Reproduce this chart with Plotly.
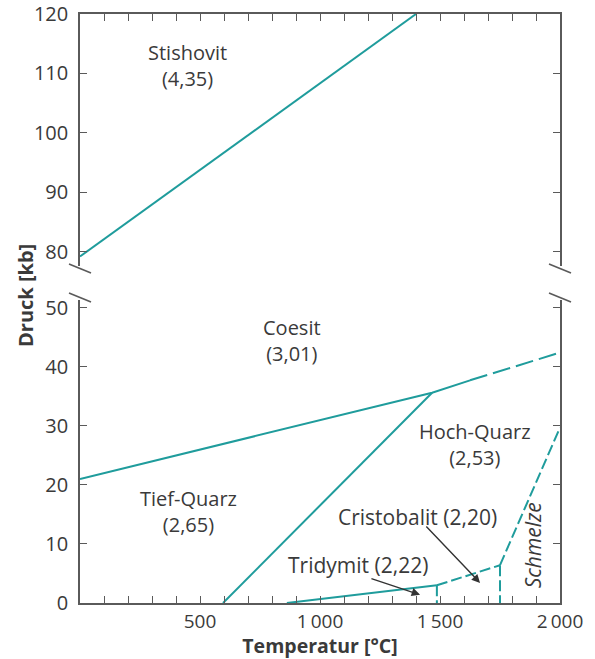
import plotly.graph_objects as go

# ---------------- data ----------------
stishovit_T = [0, 1400]
stishovit_P = [79.2, 120]

coesit_T = [0, 1467, 1625]
coesit_P = [21.0, 35.6, 37.7]
coesit_dash_T = [1625, 2000]
coesit_dash_P = [37.7, 42.4]

quarz_T = [596, 1467]
quarz_P = [0, 35.6]

tridymit_T = [862, 1487]
tridymit_P = [0, 3.0]
tridymit_v_T = [1487, 1487]
tridymit_v_P = [3.0, 0]

cristobalit_T = [1487, 1750]
cristobalit_P = [3.0, 6.4]
cristobalit_v_T = [1750, 1750]
cristobalit_v_P = [6.4, 0]

schmelze_T = [1750, 2000]
schmelze_P = [6.4, 29.7]

x_tickvals = [500, 1000, 1500, 2000]
x_ticktext = ["500", "1\u2009000", "1\u2009500", "2\u2009000"]
y_low_ticks = [0, 10, 20, 30, 40, 50]
y_high_ticks = [80, 90, 100, 110, 120]

# ---------------- style ----------------
TEAL = "#1f9c9c"
AXIS = "#5a5a5a"
TXT = "#3a3a3a"
FONT = "Open Sans"

W, H = 595, 659
L, R, T, B = 80, 35, 14, 56
PW = W - L - R
PH = H - T - B


def px(xp):
    return (xp - L) / PW


def py(yp):
    return (H - B - yp) / PH


fig = go.Figure()


def add_line(xs, ys, yaxis="y", dash="solid", xaxis="x"):
    fig.add_trace(go.Scatter(
        x=xs, y=ys, mode="lines", xaxis=xaxis, yaxis=yaxis,
        line=dict(color=TEAL, width=2, dash=dash),
        showlegend=False, hoverinfo="skip"))


add_line(stishovit_T, stishovit_P, yaxis="y2", xaxis="x2")
add_line(coesit_T, coesit_P)
add_line(coesit_dash_T, coesit_dash_P, dash="18px,6px")
add_line(quarz_T, quarz_P)
add_line(tridymit_T, tridymit_P)
add_line(tridymit_v_T, tridymit_v_P, dash="11px,4px")
add_line(cristobalit_T, cristobalit_P, dash="11px,4px")
add_line(cristobalit_v_T, cristobalit_v_P, dash="11px,4px")
add_line(schmelze_T, schmelze_P, dash="11px,4px")

bottom_dom = [0, py(300)]
top_dom = [py(266), 1]

tickfont = dict(family=FONT, size=20, color=TXT)
xtickfont = dict(family=FONT, size=19, color=TXT)

fig.update_layout(
    width=W, height=H,
    margin=dict(l=L, r=R, t=T, b=B, autoexpand=False),
    plot_bgcolor="white", paper_bgcolor="white",
    font=dict(family=FONT, color=TXT),
    xaxis=dict(
        domain=[0, 1], anchor="y", range=[0, 2000], automargin=False,
        tickvals=x_tickvals, ticktext=x_ticktext,
        ticks="inside", ticklen=7, tickwidth=1.3, tickcolor=AXIS,
        minor=dict(dtick=100, tick0=0, ticks="inside", ticklen=7,
                   tickwidth=1.3, tickcolor=AXIS, showgrid=False),
        showline=True, linecolor=AXIS, linewidth=1.6, mirror=False,
        showgrid=False, zeroline=False, tickfont=xtickfont,
        ticklabelstandoff=0,
        title=dict(text="<b>Temperatur [°C]</b>", standoff=6,
                   font=dict(family=FONT, size=19.5, color=TXT)),
    ),
    xaxis2=dict(
        domain=[0, 1], anchor="y2", range=[0, 2000], side="top",
        matches="x", showticklabels=False, automargin=False,
        tickvals=x_tickvals,
        ticks="inside", ticklen=7, tickwidth=1.3, tickcolor=AXIS,
        minor=dict(dtick=100, tick0=0, ticks="inside", ticklen=7,
                   tickwidth=1.3, tickcolor=AXIS, showgrid=False),
        showline=True, linecolor=AXIS, linewidth=1.6, mirror=False,
        showgrid=False, zeroline=False,
    ),
    yaxis=dict(
        domain=bottom_dom, anchor="x", range=[0, 51.3], automargin=False,
        tickvals=y_low_ticks,
        ticks="inside", ticklen=7, tickwidth=1.3, tickcolor=AXIS,
        showline=True, linecolor=AXIS, linewidth=1.6, mirror="ticks",
        showgrid=False, zeroline=False, tickfont=tickfont,
        ticklabelstandoff=6,
    ),
    yaxis2=dict(
        domain=top_dom, anchor="x2", range=[77.6, 120], automargin=False,
        tickvals=y_high_ticks,
        ticks="inside", ticklen=7, tickwidth=1.3, tickcolor=AXIS,
        showline=True, linecolor=AXIS, linewidth=1.6, mirror="ticks",
        showgrid=False, zeroline=False, tickfont=tickfont,
        ticklabelstandoff=6,
    ),
)

# axis break marks
for cx in (80, 560):
    for y0, y1 in ((264, 273), (293, 302)):
        fig.add_shape(type="line", xref="paper", yref="paper",
                      x0=px(cx - 11), x1=px(cx + 11), y0=py(y0), y1=py(y1),
                      line=dict(color=AXIS, width=1.6))

lab = dict(family=FONT, size=20, color=TXT)


def label(text, x, y, xref="x", yref="y", **kw):
    fig.add_annotation(text=text, x=x, y=y, xref=xref, yref=yref,
                       showarrow=False, font=kw.pop("font", lab),
                       xanchor="center", yanchor="middle", **kw)


label("Stishovit<br>(4,35)", 446, 111.4, xref="x2", yref="y2")
label("Coesit<br>(3,01)", 883, 44.4)
label("Tief-Quarz<br>(2,65)", 454, 15.5)
label("Hoch-Quarz<br>(2,53)", 1644, 26.8)
label("Cristobalit (2,20)", 1408, 14.6, font=dict(family=FONT, size=21, color=TXT))
label("Tridymit (2,22)", 1158, 6.4, font=dict(family=FONT, size=21, color=TXT))
label("<i>Schmelze</i>", 1888, 9.8, textangle=-90,
      font=dict(family=FONT, size=21, color=TXT))

# arrows
for (tx, ty, hx, hy) in ((1437, 13.2, 1667, 3.4), (1208, 4.2, 1417, 1.4)):
    fig.add_annotation(x=hx, y=hy, ax=tx, ay=ty, xref="x", yref="y",
                       axref="x", ayref="y", text="", showarrow=True,
                       arrowhead=2, arrowsize=1.2, arrowwidth=1.4,
                       arrowcolor="#333333")

# y axis title spanning both panels
fig.add_annotation(text="<b>Druck [kb]</b>", xref="paper", yref="paper",
                   x=px(25), y=py(296), showarrow=False, textangle=-90,
                   font=dict(family=FONT, size=20, color=TXT),
                   xanchor="center", yanchor="middle")

fig.write_html("out.html", config={"displayModeBar": False},
               post_script="document.body.style.margin='0px';")
